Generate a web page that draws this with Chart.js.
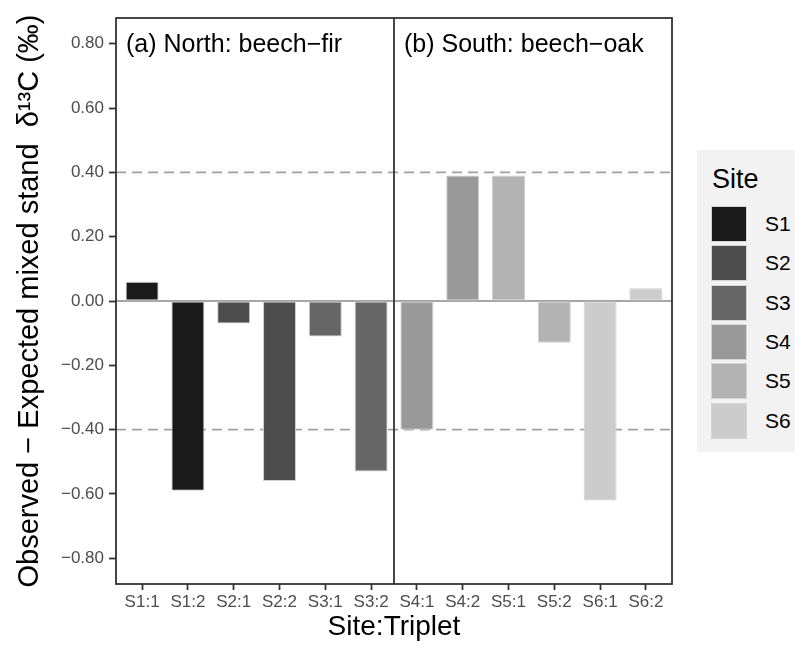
<!DOCTYPE html>
<html>
<head>
<meta charset="utf-8">
<script src="https://cdn.jsdelivr.net/npm/chart.js@4.4.1/dist/chart.umd.min.js"></script>
<style>
    html, body { margin: 0; padding: 0; background: #fff; }
    #wrap { position: relative; width: 795px; height: 648px; font-family: "Liberation Sans", Arial, sans-serif; }
    #grafico { position: absolute; left: 0; top: 0; }
    #legenda { position: absolute; left: 697px; top: 150px; width: 98px; height: 302px; background: #f2f2f2; }
    #legenda .titulo { position: absolute; left: 15px; top: 16px; font-size: 27px; line-height: 1; color: #000; }
    #legenda .chave { position: absolute; left: 14px; width: 36px; height: 36px; box-sizing: border-box; border: 1px solid #d6d6d6; }
    #legenda .rotulo { position: absolute; left: 68px; height: 36px; line-height: 36px; font-size: 21px; color: #000; }
</style>
</head>
<body>
<div id="wrap">
    <canvas id="grafico" width="795" height="648"></canvas>
    <div id="legenda"><div class="titulo">Site</div></div>
</div>
<script>
// ========== dados ==========
const categories = ['S1:1', 'S1:2', 'S2:1', 'S2:2', 'S3:1', 'S3:2', 'S4:1', 'S4:2', 'S5:1', 'S5:2', 'S6:1', 'S6:2'];
const values = [0.06, -0.59, -0.07, -0.56, -0.11, -0.53, -0.40, 0.39, 0.39, -0.13, -0.62, 0.04];
const barSite = ['S1', 'S1', 'S2', 'S2', 'S3', 'S3', 'S4', 'S4', 'S5', 'S5', 'S6', 'S6'];
const sites = ['S1', 'S2', 'S3', 'S4', 'S5', 'S6'];
const siteColors = ['#1a1a1a', '#4d4d4d', '#666666', '#999999', '#b3b3b3', '#cccccc'];
const yTicks = [-0.8, -0.6, -0.4, -0.2, 0, 0.2, 0.4, 0.6, 0.8];
const refLines = [-0.4, 0.4];
const panelLabels = ['(a) North: beech\u2212fir', '(b) South: beech\u2212oak'];
const panelStart = [0, 6];

const FONTE = '"Liberation Sans", Arial, sans-serif';

function formatTick(v) {
    const s = Math.abs(v) < 1e-9 ? '0.00' : v.toFixed(2);
    return s.replace('-', '\u2212');
}

// linhas de referência, bordas dos painéis e rótulos das facetas
const facetPlugin = {
    id: 'facetas',
    beforeDatasetsDraw(chart) {
        const { ctx, chartArea: a, scales: { y } } = chart;
        ctx.save();
        const y0 = y.getPixelForValue(0);
        ctx.strokeStyle = '#a6a6a6';
        ctx.lineWidth = 2;
        ctx.beginPath();
        ctx.moveTo(a.left, y0);
        ctx.lineTo(a.right, y0);
        ctx.stroke();

        ctx.setLineDash([10, 6]);
        ctx.lineWidth = 1.6;
        ctx.strokeStyle = '#a0a0a0';
        refLines.forEach(v => {
            const py = y.getPixelForValue(v);
            ctx.beginPath();
            ctx.moveTo(a.left, py);
            ctx.lineTo(a.right, py);
            ctx.stroke();
        });
        ctx.restore();
    },
    afterDatasetsDraw(chart) {
        const { ctx, chartArea: a, scales: { x } } = chart;
        ctx.save();
        ctx.strokeStyle = '#333333';
        ctx.lineWidth = 1.8;
        ctx.strokeRect(a.left, a.top, a.right - a.left, a.bottom - a.top);

        const xDiv = x.getPixelForValue(panelStart[1] - 0.5);
        ctx.beginPath();
        ctx.moveTo(xDiv, a.top);
        ctx.lineTo(xDiv, a.bottom);
        ctx.stroke();

        ctx.fillStyle = '#000';
        ctx.font = '25px ' + FONTE;
        ctx.textBaseline = 'alphabetic';
        const bordas = [a.left, xDiv];
        panelLabels.forEach((txt, i) => {
            ctx.fillText(txt, bordas[i] + 10, a.top + 34);
        });
        ctx.restore();
    }
};

const ctx = document.getElementById('grafico').getContext('2d');

new Chart(ctx, {
    type: 'bar',
    data: {
        datasets: [{
            data: values.map((v, i) => ({ x: i, y: v })),
            backgroundColor: barSite.map(s => siteColors[sites.indexOf(s)]),
            borderColor: '#cfcfcf',
            borderWidth: 1,
            borderSkipped: false,
            barPercentage: 0.72,
            categoryPercentage: 1
        }]
    },
    options: {
        responsive: false,
        animation: false,
        devicePixelRatio: 1,
        layout: {
            padding: { top: 18, right: 123, left: 0, bottom: 0 }
        },
        plugins: {
            legend: { display: false },
            tooltip: { enabled: false }
        },
        scales: {
            x: {
                type: 'linear',
                min: -0.57,
                max: categories.length - 1 + 0.57,
                offset: false,
                afterBuildTicks: s => { s.ticks = categories.map((c, i) => ({ value: i })); },
                ticks: {
                    callback: v => categories[v],
                    color: '#4d4d4d',
                    font: { family: FONTE, size: 17 },
                    padding: 2,
                    autoSkip: false,
                    maxRotation: 0
                },
                grid: {
                    offset: false,
                    drawOnChartArea: false,
                    drawTicks: true,
                    tickLength: 6,
                    tickColor: '#333333',
                    tickWidth: 1.8
                },
                border: { display: false },
                title: {
                    display: true,
                    text: 'Site:Triplet',
                    color: '#000',
                    font: { family: FONTE, size: 28 },
                    padding: { top: 0, bottom: 4 }
                },
                afterFit: s => { s.height = 64; }
            },
            y: {
                min: -0.88,
                max: 0.88,
                afterBuildTicks: s => { s.ticks = yTicks.map(v => ({ value: v })); },
                ticks: {
                    callback: v => formatTick(v),
                    color: '#4d4d4d',
                    font: { family: FONTE, size: 17 },
                    padding: 5
                },
                grid: {
                    drawOnChartArea: false,
                    drawTicks: true,
                    tickLength: 7,
                    tickColor: '#333333',
                    tickWidth: 1.8
                },
                border: { display: false },
                title: {
                    display: true,
                    text: 'Observed \u2212 Expected mixed stand  \u03b4\u00b9\u00b3C (\u2030)',
                    color: '#000',
                    font: { family: FONTE, size: 29 },
                    padding: { top: 13, bottom: 0 }
                },
                afterFit: s => { s.width = 116; }
            }
        }
    },
    plugins: [facetPlugin]
});

// Legenda
const legenda = document.getElementById('legenda');
sites.forEach((s, i) => {
    const topo = 56 + i * 39.3;
    const chave = document.createElement('div');
    chave.className = 'chave';
    chave.style.top = topo + 'px';
    chave.style.background = siteColors[i];
    legenda.appendChild(chave);
    const rot = document.createElement('div');
    rot.className = 'rotulo';
    rot.style.top = topo + 'px';
    rot.textContent = s;
    legenda.appendChild(rot);
});
</script>
</body>
</html>
